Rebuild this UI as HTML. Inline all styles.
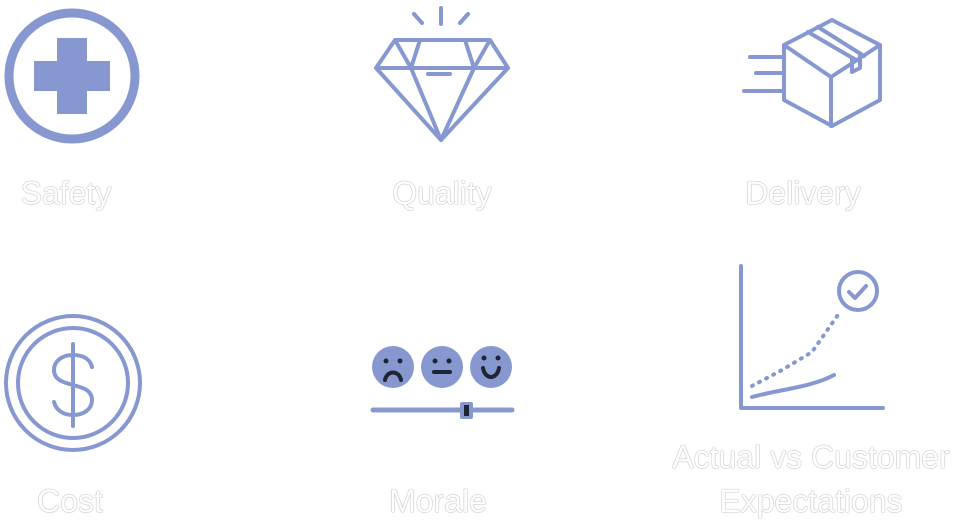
<html><body style="margin:0;background:#fff;width:960px;height:530px;overflow:hidden;position:relative;font-family:'Liberation Sans',sans-serif">
<svg width="960" height="530" style="position:absolute;left:0;top:0" fill="none" stroke="#8798d0" stroke-linecap="round" stroke-linejoin="round">
<circle cx="72" cy="76" r="63" stroke-width="9"/>
<path d="M57 38h30v23h23v30h-23v23h-30v-23h-23v-30h23z" fill="#8798d0" stroke="none"/>
<g stroke-width="4">
<path d="M414 14l8 9M441 8v16M468 14l-8 9"/>
<path d="M395 40h95l18 28l-67 72l-65-72z"/>
<path d="M377 68h131M395 40l16 28l30 72M490 40l-16 28l-33 72M420 40l-9 28M465 40l9 28M428 74h22"/>
</g>
<g stroke-width="4">
<path d="M832 20l48 25v55l-48 26l-48-26v-55z"/>
<path d="M784 45l47 32l49-32M831 77v49"/>
<path d="M808 32l48 28M818 27l46 29M852 58v14l8-4v-12"/>
<path d="M750 57h33M756 73h26M744 91h38"/>
</g>
<circle cx="73" cy="383" r="67" stroke-width="4"/>
<circle cx="73" cy="383" r="55" stroke-width="4"/>
<path d="M92 367c-2-8-9-12-19-12c-11 0-19 6-19 15c0 20 38 10 38 30c0 9-8 15-19 15c-10 0-17-5-19-13M73 344v82" stroke-width="4"/>
<g fill="#8798d0" stroke="none"><circle cx="393" cy="367" r="21"/><circle cx="442" cy="367" r="21"/><circle cx="491" cy="367" r="21"/></g>
<g stroke="#1e2433" stroke-width="4"><path d="M385 380c2-10 14-10 16 0M434 372h16M483 368c2 12 14 12 16 0"/></g>
<g fill="#1e2433" stroke="none"><circle cx="386" cy="361" r="2.5"/><circle cx="400" cy="361" r="2.5"/><circle cx="435" cy="361" r="2.5"/><circle cx="449" cy="361" r="2.5"/><circle cx="484" cy="358" r="2.5"/><circle cx="498" cy="358" r="2.5"/></g>
<path d="M373 410h139" stroke-width="5"/>
<rect x="460" y="402" width="13" height="17" rx="2" fill="#8798d0" stroke="none"/>
<rect x="464" y="405" width="5" height="11" fill="#1e2433" stroke="none"/>
<path d="M741 266v142h142" stroke-width="4"/>
<path d="M752 386l30-16l30-18l28-40" stroke-width="4" stroke-dasharray="1 7"/>
<path d="M752 397c30-8 60-10 82-22" stroke-width="4"/>
<circle cx="858" cy="291" r="19" stroke-width="4"/>
<path d="M849 292l6 6l11-12" stroke-width="4"/>
</svg>
<div style="position:absolute;color:#fff;font-size:32px;text-shadow:0 0 1px #999,0 0 1px #999;white-space:nowrap">
<div style="position:absolute;left:66px;top:175px;transform:translateX(-50%)">Safety</div>
<div style="position:absolute;left:442px;top:175px;transform:translateX(-50%)">Quality</div>
<div style="position:absolute;left:803px;top:175px;transform:translateX(-50%)">Delivery</div>
<div style="position:absolute;left:70px;top:483px;transform:translateX(-50%)">Cost</div>
<div style="position:absolute;left:438px;top:483px;transform:translateX(-50%)">Morale</div>
<div style="position:absolute;left:811px;top:439px;transform:translateX(-50%)">Actual vs Customer</div>
<div style="position:absolute;left:811px;top:483px;transform:translateX(-50%)">Expectations</div>
</div>
</body></html>
